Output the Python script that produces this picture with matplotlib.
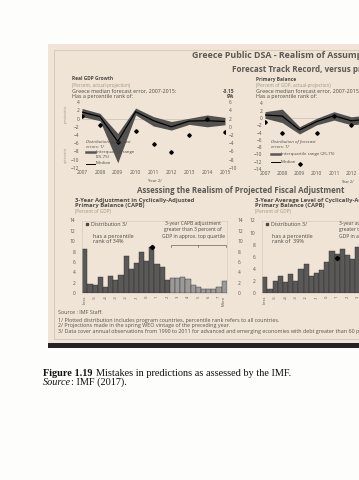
import matplotlib
matplotlib.use("Agg")
import matplotlib.pyplot as plt
from matplotlib.patches import Rectangle

W, H = 359, 480
SANS = ["Open Sans", "DejaVu Sans"]
SERIF = "Liberation Serif"
INK = "#4f4a45"
SOFT = "#a39484"
BEIGE = "#efe4d5"

# forecast track record (actual - projection)
years = [2007, 2008, 2009, 2010, 2011, 2012, 2013, 2014, 2015]
gdp_median = [1.6, 0.5, -5.6, 1.7, -0.5, -2.0, -0.6, -0.5, -0.7]
gdp_q25 = [0.5, -0.5, -10.8, 0.9, -1.8, -2.8, -1.4, -2.0, -1.5]
gdp_q75 = [2.5, 1.3, -3.6, 2.6, 0.5, -0.7, 0.1, 0.9, 0.3]
gdp_greece = [0.7, -1.5, -5.6, -3.0, -6.1, -8.1, -4.0, 0.0, -3.2]

pb_median = [0.8, 0.5, -3.3, -1.0, 0.6, -0.8, -0.3, 0.2, -0.4]
pb_q25 = [-0.1, -1.3, -4.4, -1.9, -0.6, -1.9, -1.5, -1.0, -1.5]
pb_q75 = [1.7, 2.4, -2.4, -0.1, 1.7, 0.3, 0.8, 1.2, 0.6]
pb_greece = [-1.0, -4.2, -12.6, -4.0, 0.4, -2.0, -1.0, 0.5, -1.5]

# distributions of CAPB (percent of observations)
capb_adj = [8.5, 1.8, 1.6, 3.2, 1.15, 3.4, 2.6, 3.6, 7.1, 4.6, 5.9, 8.0, 6.2, 9.0,
            5.6, 5.1, 2.6, 3.0, 3.0, 3.2, 2.8, 1.6, 1.2, 0.8, 0.9, 0.9, 1.2, 2.4]
capb_adj_top_from = 17
capb_adj_greece_bin, capb_adj_greece = 13, 9.0
capb_level = [2.7, 0.7, 2.1, 2.9, 1.8, 3.2, 2.1, 4.0, 4.9, 2.9, 3.4, 3.8, 5.2, 6.9,
              6.5, 7.3, 6.3, 5.7, 7.6, 8.4]
capb_level_greece_bin, capb_level_greece = 14, 5.9
bin_labels = ["Less", "-5", "-4", "-3", "-2", "-1", "0", "1", "2", "3", "4", "5",
              "6", "7", "More"]
bin_label_pos = [0, 2, 4, 6, 8, 10, 12, 14, 16, 18, 20, 22, 24, 26, 27]

footnotes = [
    "Source : IMF Staff.",
    "1/ Plotted distribution includes program countries, percentile rank refers to all countries.",
    "2/ Projections made in the spring WEO vintage of the preceding year.",
    "3/ Data cover annual observations from 1990 to 2011 for advanced and emerging economies with debt greater than 60 percent of GDP.",
]


def box(x0, y0, x1, y1):
    return [x0 / W, 1 - y1 / H, (x1 - x0) / W, (y1 - y0) / H]


def txt(x, y, s, size=3.2, color=INK, weight="normal", style="normal", **kw):
    return fig.text(x / W, 1 - y / H, s, fontsize=size, color=color,
                    fontweight=weight, fontstyle=style, family=SANS,
                    va="center", **kw)


def style_ticks(ax, pad=2):
    ax.tick_params(length=0, labelsize=3.5, labelcolor="#5a5550", pad=pad)
    for lab in ax.get_xticklabels() + ax.get_yticklabels():
        lab.set_family(SANS)


fig = plt.figure(figsize=(W / 100, H / 100), dpi=100)
fig.patch.set_facecolor("#fdfdfc")

# the photographed page (kept underneath the axes)
fig.patches.append(Rectangle((48 / W, 1 - 343 / H), 320 / W, 299 / H,
                             transform=fig.transFigure, facecolor=BEIGE,
                             edgecolor="none", zorder=-3))
fig.patches.append(Rectangle((54 / W, 1 - 339 / H), 320 / W, 289 / H,
                             transform=fig.transFigure, facecolor="none",
                             edgecolor="#cdbfae", lw=0.5, zorder=-2))
fig.patches.append(Rectangle((48 / W, 1 - 348 / H), 320 / W, 5 / H,
                             transform=fig.transFigure, facecolor="#262422",
                             edgecolor="none", zorder=-2))

txt(192, 56, "Greece Public DSA - Realism of Assumptions", size=6.4,
    color="#5c5854", weight="bold")
txt(232, 70, "Forecast Track Record, versus program countries", size=5.8,
    color="#5c5854", weight="bold")


def track_panel(rect, x0, med, q25, q75, greece, ylim, yticks, title, sub, err):
    ax = fig.add_axes(rect)
    ax.set_facecolor("none")
    ax.axhline(0, color="#cbbfb1", lw=0.5, zorder=1)
    ax.fill_between(years, q25, q75, color="#545250", lw=0, zorder=2)
    ax.plot(years, med, color="black", lw=0.9, zorder=3)
    ax.plot(years, greece, ls="none", marker="D", ms=1.8, color="black", zorder=4)
    ax.set_xlim(2007, 2015)
    ax.set_ylim(*ylim)
    ax.set_yticks(yticks)
    ax.set_xticks(years)
    for s in ax.spines.values():
        s.set_visible(False)
    style_ticks(ax)
    txt(x0, 79, title, size=3.5, weight="bold")
    txt(x0, 85, sub, size=3.3, color=SOFT)
    txt(x0, 91.5, "Greece median forecast error, 2007-2015:", size=3.9)
    txt(x0, 96.5, "Has a percentile rank of:", size=3.9)
    if err:
        txt(234, 91.5, err[0], size=3.6, weight="bold", ha="right")
        txt(234, 96.5, err[1], size=3.6, weight="bold", ha="right")
    return ax


ax1 = track_panel(box(82, 102.3, 225, 167.7), 72, gdp_median, gdp_q25, gdp_q75,
                  gdp_greece, (-12, 4), range(-12, 5, 2), "Real GDP Growth",
                  "(Percent, actual-projection)", ("-3.15", "9%"))
ax1r = ax1.twinx()
ax1r.set_ylim(-10, 6)
ax1r.set_yticks(range(-10, 7, 2))
for s in ax1r.spines.values():
    s.set_visible(False)
style_ticks(ax1r, pad=3)

ax2 = track_panel(box(265, 103.3, 403, 169), 256, pb_median, pb_q25, pb_q75,
                  pb_greece, (-14, 4), range(-14, 5, 2), "Primary Balance",
                  "(Percent of GDP, actual-projection)", None)
ax2.tick_params(axis="x", pad=1.2)

# side labels and legends of the track-record panels
txt(66, 114, "pessimistic", size=2.6, color=SOFT, rotation=90, ha="center")
txt(66, 155, "optimistic", size=2.6, color=SOFT, rotation=90, ha="center")
for lx, ly in [(86, 142), (271, 142)]:
    txt(lx, ly, "Distribution of forecast", size=3.2, style="italic")
    txt(lx, ly + 5, "errors: 1/", size=3.2, style="italic")
for lx, tx, y1, y2, iqr in [(86, 96, 152.5, 163.5, ["Interquartile range", "(25-75)"]),
                            (271, 281, 154, 162, ["Interquartile range (25-75)"])]:
    fig.add_artist(plt.Line2D([lx / W, (lx + 9) / W], [1 - y1 / H] * 2,
                              color="#5a5856", lw=1.8))
    fig.add_artist(plt.Line2D([lx / W, (lx + 9) / W], [1 - y2 / H] * 2,
                              color="black", lw=0.7))
    for i, s in enumerate(iqr):
        txt(tx, y1 + 5 * i, s, size=3.2)
    txt(tx, y2, "Median", size=3.2)
txt(155, 181.5, "Year 2/", size=3.0, ha="center")
txt(347, 181.8, "Year 2/", size=2.8, ha="center")

txt(137, 190.8, "Assessing the Realism of Projected Fiscal Adjustment", size=5.7,
    color="#5c5854", weight="bold")


def dist_panel(rect, vals, top, ymax, greece_bin, greece_val, x0, t1):
    ax = fig.add_axes(rect)
    ax.set_facecolor("none")
    xs = range(len(vals))
    cols = ["#9c9a98" if i >= top else "#5b5957" for i in xs]
    ax.bar(xs, vals, width=1.0, color=cols, edgecolor="#2f2d2b", lw=0.3, zorder=2)
    ax.plot([greece_bin], [greece_val], marker="D", ms=2.2, color="black", zorder=3)
    ax.set_xlim(-0.5, 27.5)
    ax.set_ylim(0, ymax)
    ax.set_yticks(range(0, ymax + 1, 2))
    ax.set_xticks(bin_label_pos)
    ax.set_xticklabels(bin_labels, rotation=90)
    for s in ax.spines.values():
        s.set_color("#d2c6b8")
        s.set_linewidth(0.4)
    style_ticks(ax, pad=1.5)
    ax.tick_params(axis="x", labelsize=3.0)
    ax.tick_params(axis="y", pad=5)
    ax.plot([0.03], [0.95], transform=ax.transAxes, marker="s", ms=2.0,
            color="#4a4846", ls="none")
    ax.text(0.06, 0.95, "Distribution 3/", transform=ax.transAxes, fontsize=3.9,
            color=INK, family=SANS, va="center")
    txt(x0, 200, t1, size=4.2, weight="bold")
    txt(x0, 205.8, "Primary Balance (CAPB)", size=4.2, weight="bold")
    txt(x0, 211.2, "(Percent of GDP)", size=3.3, color=SOFT)
    return ax


b1 = dist_panel(box(82.3, 220.5, 226.7, 293.3), capb_adj, capb_adj_top_from, 14,
                capb_adj_greece_bin, capb_adj_greece, 75,
                "3-Year Adjustment in Cyclically-Adjusted")
b1r = b1.twinx()
b1r.set_ylim(0, 14)
b1r.set_yticks(range(0, 15, 2))
for s in b1r.spines.values():
    s.set_visible(False)
style_ticks(b1r, pad=8)
txt(93, 236.7, "has a percentile", size=4.0)
txt(93, 241.7, "rank of 34%", size=4.0)
for i, s in enumerate(["3-year CAPB adjustment", "greater than 3 percent of",
                       "GDP in approx. top quartile"]):
    txt(193, 223.5 + 6.3 * i, s, size=3.6, ha="center")
b1.plot([16.7, 16.7, 27.3, 27.3], [9.0, 9.35, 9.35, 9.0], color="#444", lw=0.4)
b1.plot([22, 22], [9.35, 9.0], color="#444", lw=0.4)

b2 = dist_panel(box(262.3, 220.5, 262.3 + 28 * 5.16, 293.3), capb_level, 99, 12,
                capb_level_greece_bin, capb_level_greece, 255,
                "3-Year Average Level of Cyclically-Adjusted")
txt(272, 236.7, "has a percentile", size=4.0)
txt(272, 241.7, "rank of  39%", size=4.0)
for i, s in enumerate(["3-year average CAPB", "greater than 3.5 percent of",
                       "GDP in approx. top quartile"]):
    txt(339, 223.5 + 6.3 * i, s, size=3.6)

for i, s in enumerate(footnotes):
    txt(58, [313, 320.5, 326, 331.5][i], s, size=3.85, color="#56514c")

# caption (bold / italic lead-ins followed by regular text)
fig.canvas.draw()
r = fig.canvas.get_renderer()
lead = fig.text(43 / W, 1 - 373.5 / H, "Figure 1.19", fontsize=7.4, family=SERIF,
                fontweight="bold", va="center", color="#111")
bb = lead.get_window_extent(r)
fig.text(bb.x1 / W + 4 / W, 1 - 373.5 / H,
         "Mistakes in predictions as assessed by the IMF.", fontsize=7.4,
         family=SERIF, va="center", color="#111")
lead2 = fig.text(43 / W, 1 - 382.5 / H, "Source", fontsize=7.4, family=SERIF,
                 fontstyle="italic", va="center", color="#111")
bb2 = lead2.get_window_extent(r)
fig.text(bb2.x1 / W, 1 - 382.5 / H, ": IMF (2017).", fontsize=7.4, family=SERIF,
         va="center", color="#111")

fig.savefig("out.png", dpi=100)
